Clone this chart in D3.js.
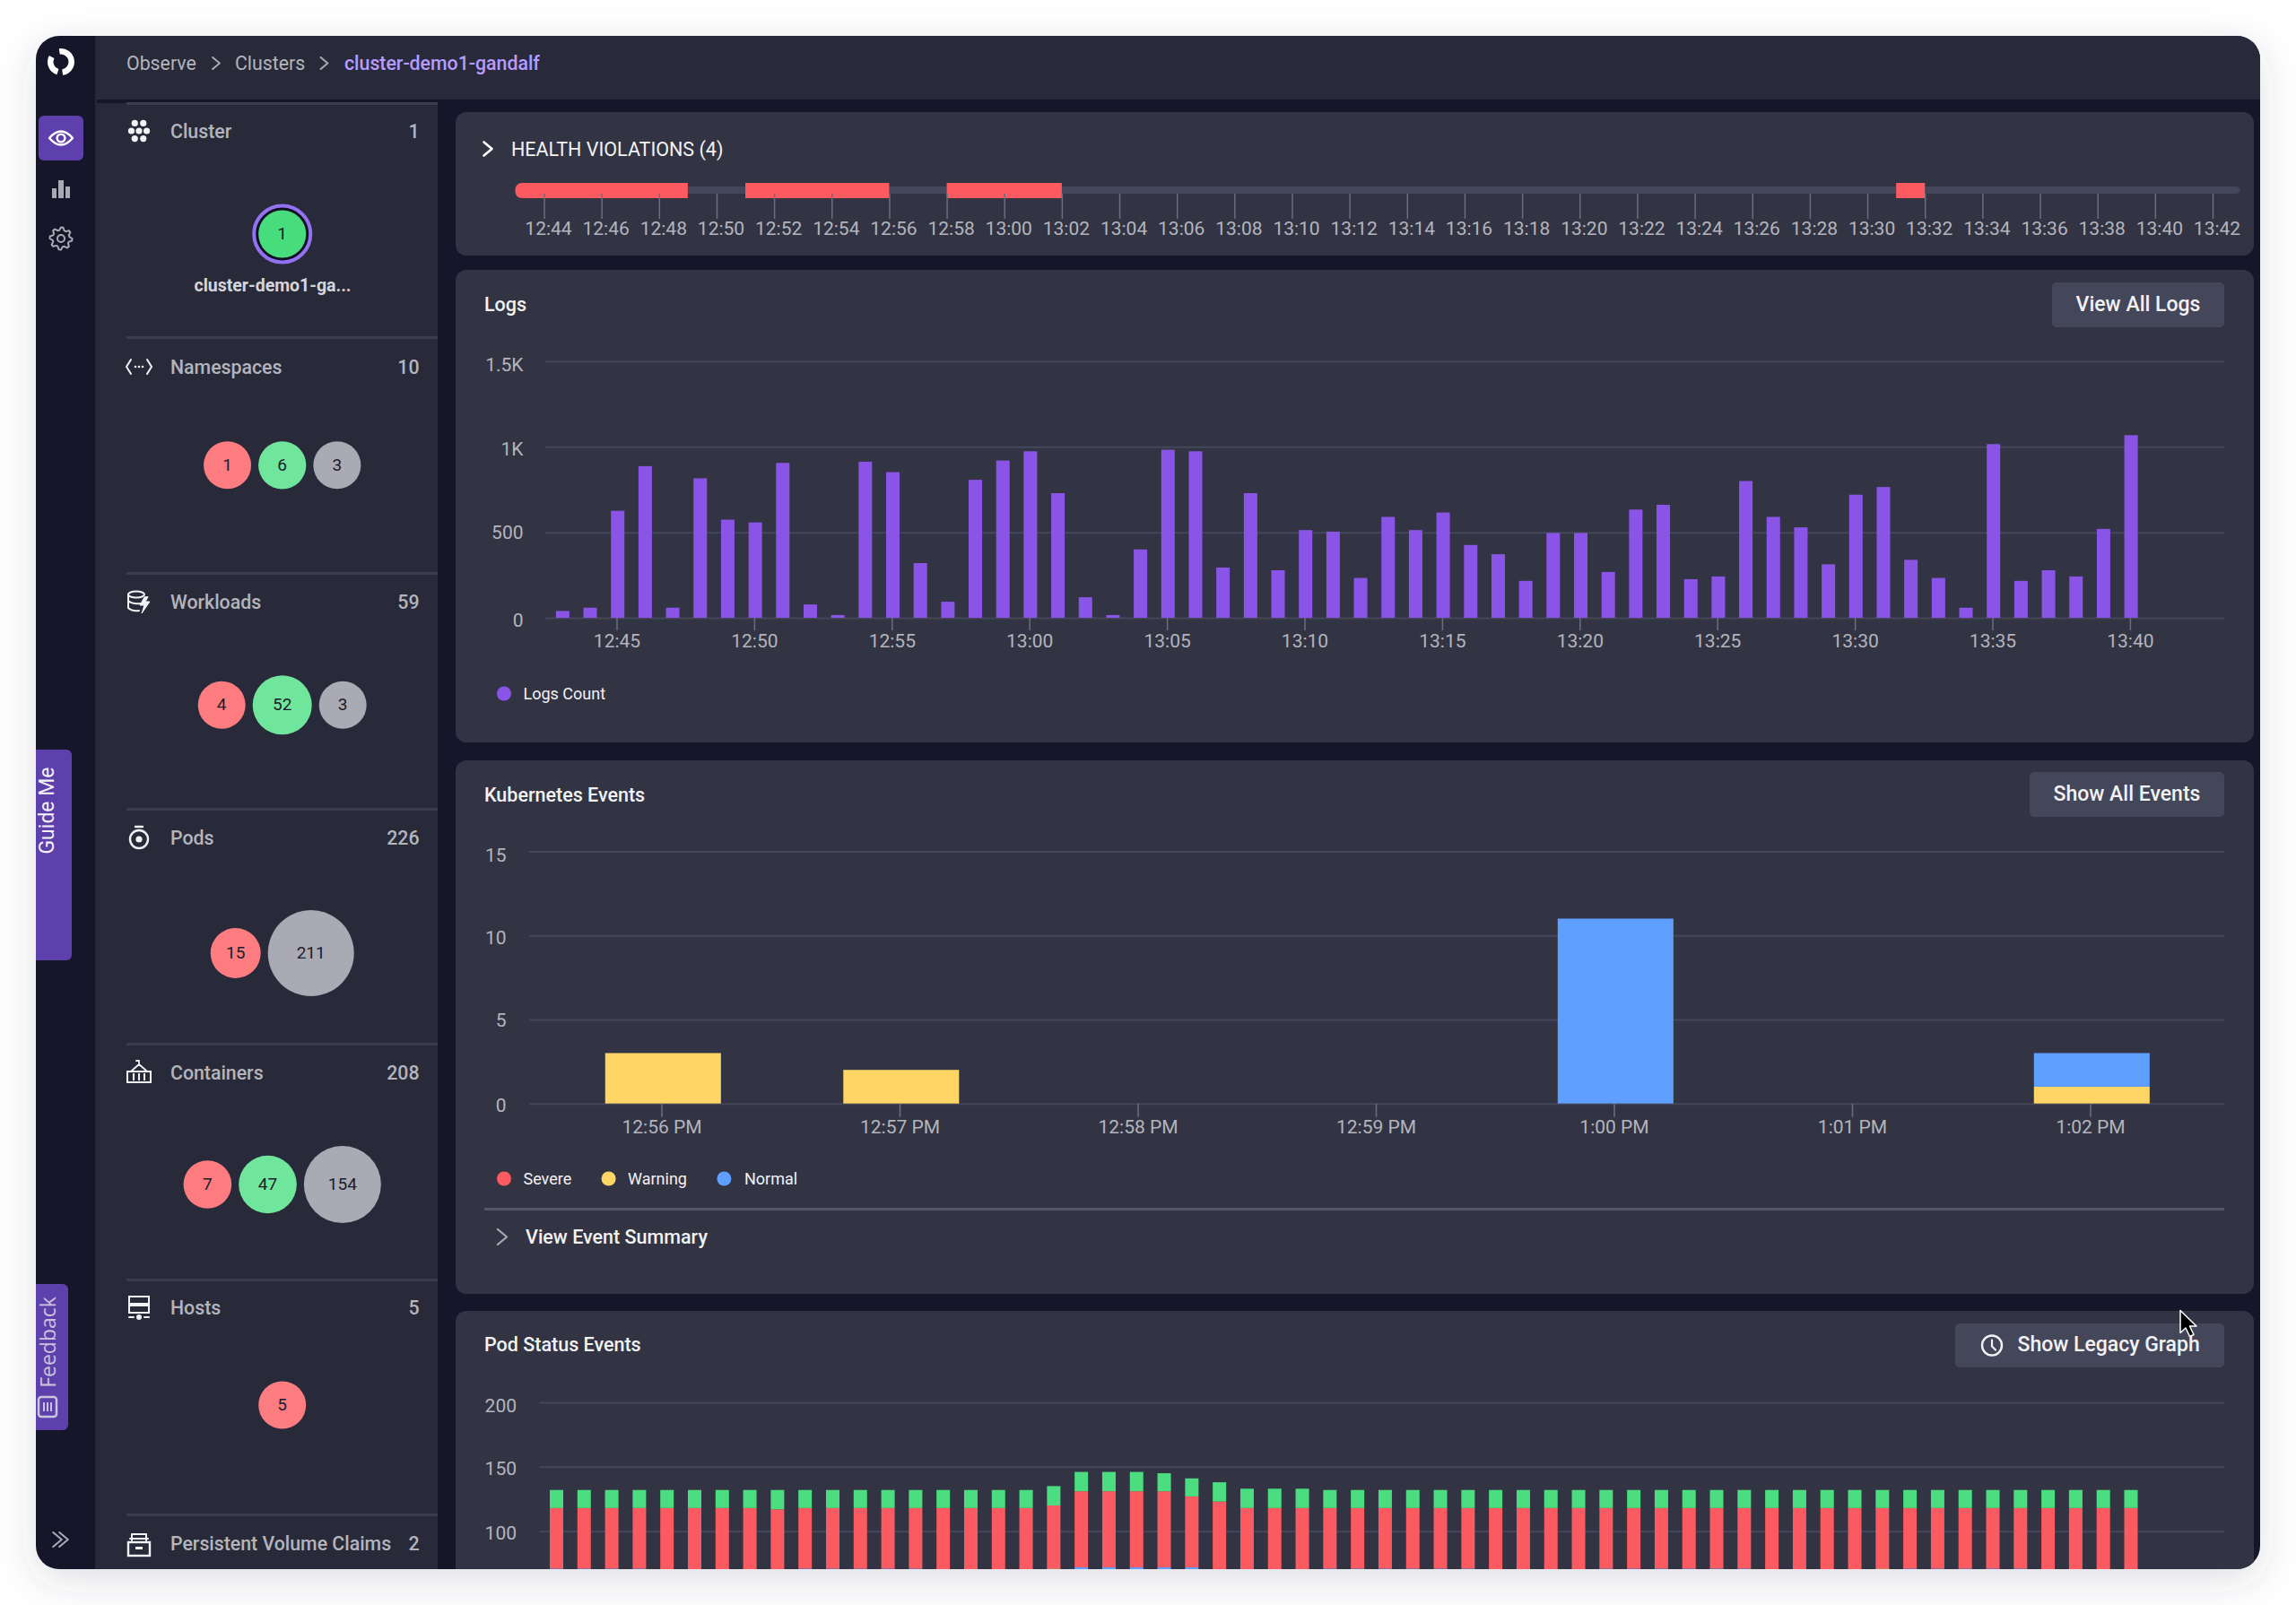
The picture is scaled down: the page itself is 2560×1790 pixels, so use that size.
<!DOCTYPE html>
<html><head><meta charset="utf-8">
<script src="https://cdn.jsdelivr.net/npm/d3@7/dist/d3.min.js"></script>
<style>
html,body{margin:0;padding:0;background:#fff;width:2560px;height:1790px;overflow:hidden}
svg{display:block}
text{font-family:Roboto,sans-serif}
.axis path.domain{display:none}
</style></head><body><div id="chart"></div>
<script>
// ---------- data ----------
const breadcrumbs = ["Observe","Clusters","cluster-demo1-gandalf"];
const sections = ["Cluster","Namespaces","Workloads","Pods","Containers","Hosts","Persistent Volume Claims"];
const sectionCounts = [1,10,59,226,208,5,2];
const clusterBubble = [{v:1,c:"cluster"}];
const namespaceBubbles = [{v:1,c:"bad"},{v:6,c:"good"},{v:3,c:"idle"}];
const workloadBubbles = [{v:4,c:"bad"},{v:52,c:"good"},{v:3,c:"idle"}];
const podBubbles = [{v:15,c:"bad"},{v:211,c:"idle"}];
const containerBubbles = [{v:7,c:"bad"},{v:47,c:"good"},{v:154,c:"idle"}];
const hostBubbles = [{v:5,c:"bad"}];

const healthViolations = [["12:43","12:49"],["12:51","12:56"],["12:58","13:02"],["13:31","13:32"]];
const healthStart = "12:44", healthEnd = "13:42";

const logCounts = [40,59,626,887,59,816,574,558,906,78,16,913,852,320,94,807,920,974,729,120,16,400,983,974,294,729,278,513,504,233,590,513,616,426,372,216,496,496,268,633,661,226,242,800,590,529,313,720,765,339,233,59,1016,216,278,242,520,1068];
const logTicks = [0,500,1000,1500];

const k8sTimes = ["12:56 PM","12:57 PM","12:58 PM","12:59 PM","1:00 PM","1:01 PM","1:02 PM"];
const k8sSevere  = [0,0,0,0,0,0,0];
const k8sWarning = [3,2,0,0,0,0,1];
const k8sNormal  = [0,0,0,0,11,0,2];
const k8sTicks = [0,5,10,15];

const podNormal  = [71,71,71,71,70,70,70,70,70,71,71,71,71,71,70,70,70,70,70,72,72,72,72,72,70,70,70,70,71,71,71,71,71,71,70,70,70,70,71,71,71,71,71,71,70,70,70,70,70,71,71,71,71,71,70,70,70,70];
const podWarning = [0,0,0,0,0,0,0,0,0,0,0,0,0,0,0,0,0,0,1,0,0,0,0,0,0,0,0,0,0,0,0,0,0,0,0,0,0,0,0,0,0,0,0,0,0,0,0,0,1,0,0,0,0,0,0,0,0,0];
const podSevere  = [47,47,47,47,48,48,48,48,47,47,47,47,47,47,48,48,48,48,49,59,59,59,59,55,53,48,48,48,47,47,47,47,47,47,48,48,48,48,47,47,47,47,47,47,48,48,48,48,47,47,47,47,47,47,48,48,48,48];
const podRunning = [14,14,14,14,14,14,14,14,15,14,14,14,14,14,14,14,14,14,15,15,15,15,14,14,15,15,15,15,14,14,14,14,14,14,14,14,14,14,14,14,14,14,14,14,14,14,14,14,14,14,14,14,14,14,14,14,14,14];
const podTicks = [100,150,200];

// ---------- palette ----------
const C = {nav:"#15182b",panel:"#282a3a",card:"#323444",grid:"#44465a",tick:"#6d6e7c",txt:"#b4b5bc",white:"#f2f2f4",
  red:"#fb5a60",yellow:"#ffd666",blue:"#5e9fff",green:"#4cdd80",purple:"#8a55e6",tile:"#5d40ab",btn:"#44465a"};
const bubbleFill = {bad:"#fc7c80",good:"#6fe69c",idle:"#a9aab3",cluster:"#47dc7c"};

const W=2560,H=1790;
const svg = d3.select("#chart").append("svg").attr("width",W).attr("height",H);
const defs = svg.append("defs");
const sh = defs.append("filter").attr("id","shadow").attr("x","-5%").attr("y","-5%").attr("width","110%").attr("height","112%");
sh.append("feDropShadow").attr("dx",0).attr("dy",12).attr("stdDeviation",22).attr("flood-color","#3a3d55").attr("flood-opacity",0.16);
defs.append("clipPath").attr("id","win").append("rect").attr("x",40).attr("y",40).attr("width",2480).attr("height",1710).attr("rx",26);

svg.append("rect").attr("x",40).attr("y",40).attr("width",2480).attr("height",1710).attr("rx",26).attr("fill",C.nav).attr("filter","url(#shadow)");
const root = svg.append("g").attr("clip-path","url(#win)");
const rect=(g,x,y,w,h,f,r=0)=>g.append("rect").attr("x",x).attr("y",y).attr("width",w).attr("height",h).attr("fill",f).attr("rx",r);
const text=(g,s,x,y,o={})=>g.append("text").text(s).attr("x",x).attr("y",y).attr("font-size",o.size||21).attr("font-weight",o.w||400)
  .attr("fill",o.fill||C.txt).attr("text-anchor",o.anchor||"start").attr("dominant-baseline","central");
const line=(g,d,o={})=>g.append("path").attr("d",d).attr("fill",o.fill||"none").attr("stroke",o.stroke||C.white).attr("stroke-width",o.sw||2).attr("stroke-linecap","round").attr("stroke-linejoin","round");
const chev=(g,x,y,h,col,sw)=>line(g,`M${x-h*0.3},${y-h/2}L${x+h*0.3},${y}L${x-h*0.3},${y+h/2}`,{stroke:col,sw});

// ---------- shell ----------
rect(root,107,40,2413,71,C.panel);
rect(root,106,40,2,1710,"#262838");
rect(root,108,115,380,1635,C.panel);

// nav
const logoArc=d3.arc().innerRadius(8.5).outerRadius(15);
const logo=root.append("g").attr("transform","translate(68,69)");
logo.append("path").attr("d",logoArc({startAngle:-0.15,endAngle:3.0})).attr("fill","#fff");
logo.append("path").attr("d",logoArc({startAngle:3.45,endAngle:5.2})).attr("fill","#fff");
rect(root,43,129,50,50,C.tile,6);
const eye=root.append("g").attr("transform","translate(68,154)");
line(eye,"M-13,0Q0,-15 13,0Q0,15 -13,0Z",{stroke:"#fff",sw:2.4});
eye.append("circle").attr("r",4.4).attr("fill","none").attr("stroke","#fff").attr("stroke-width",2.4);
const navBars=root.append("g").attr("transform","translate(68,212)");
[[-10,-2,5,11],[-3,-11,6,20],[5,-4,5,13]].forEach(b=>rect(navBars,b[0],b[1],b[2],b[3],"#a9aab3"));
const gear=root.append("g").attr("transform","translate(68,266)");
gear.append("circle").attr("r",4).attr("fill","none").attr("stroke","#a9aab3").attr("stroke-width",2);
gear.append("path").attr("d",d3.lineRadial().curve(d3.curveLinearClosed)(d3.range(32).map(i=>[i*Math.PI/16,[12.5,12.5,9.5,9.5][i%4]]))).attr("fill","none").attr("stroke","#a9aab3").attr("stroke-width",2).attr("stroke-linejoin","round");
chev(root,64,1717,16,"#a9aab3",2);chev(root,71,1717,16,"#a9aab3",2);

// side tabs
rect(root,20,836,60,235,C.tile,6);
root.append("text").text("Guide Me").attr("transform","translate(52,904) rotate(-90)").attr("text-anchor","middle").attr("dominant-baseline","central").attr("font-size",23).attr("font-weight",400).attr("fill","#f2f2f4");
rect(root,20,1432,56,163,C.tile,6);
root.append("text").text("Feedback").attr("transform","translate(53,1497) rotate(-90)").attr("text-anchor","middle").attr("dominant-baseline","central").attr("font-size",23).attr("font-weight",500).attr("style","font-family:'Open Sans',sans-serif").attr("fill","#c9c3dc");
const fb=root.append("g").attr("transform","translate(53,1569)");
rect(fb,-10,-11,20,22,"none",3).attr("stroke","#c9c3dc").attr("stroke-width",2.5);
[-4,0,4].forEach(dx=>rect(fb,dx-1,-5,2,10,"#c9c3dc"));

// breadcrumbs
text(root,breadcrumbs[0],141,70.5,{size:21.3,fill:"#b4b5bc"});
chev(root,241,70.5,13,"#a9aab3",2);
text(root,breadcrumbs[1],262,70.5,{size:21.3,fill:"#b4b5bc"});
chev(root,361.5,70.5,13,"#a9aab3",2);
text(root,breadcrumbs[2],384,70.5,{size:21.3,w:500,fill:"#b79cff"});

// ---------- left panel ----------
const secY=[146,409,671,934,1196,1458,1721];
const divY=[115,376,639,902,1164,1427,1689];
const rowY=[261,518.8,786.3,1063,1321,1567];
const rows=[clusterBubble,namespaceBubbles,workloadBubbles,podBubbles,containerBubbles,hostBubbles];
const rScale=d3.scaleLinear().domain([1,5,15,52,154,211]).range([26.5,26.5,28,33,43,48]);
const panel=root.append("g");
divY.forEach(y=>rect(panel,141,y-1,347,3,"#3b3d4f"));
sections.forEach((s,i)=>{
  text(panel,s,190,secY[i],{size:21.3,w:500,fill:C.txt});
  text(panel,sectionCounts[i],467.5,secY[i],{size:21.3,w:500,fill:C.txt,anchor:"end"});
});
rows.forEach((r,i)=>{
  const gap=8,total=d3.sum(r,d=>2*rScale(d.v))+gap*(r.length-1);
  let cx=314.7-total/2;
  const g=panel.append("g");
  r.forEach(d=>{
    const rad=rScale(d.v);cx+=rad;
    g.append("circle").attr("cx",cx).attr("cy",rowY[i]).attr("r",rad).attr("fill",bubbleFill[d.c]);
    if(d.c==="cluster"){
      g.append("circle").attr("cx",cx).attr("cy",rowY[i]).attr("r",rad+2).attr("fill","none").attr("stroke","#0e1020").attr("stroke-width",3);
      g.append("circle").attr("cx",cx).attr("cy",rowY[i]).attr("r",rad+5).attr("fill","none").attr("stroke","#9272f0").attr("stroke-width",4);
    }
    text(g,d.v,cx,rowY[i]-0.5,{size:19,fill:"#1b1c2c",anchor:"middle"});
    cx+=rad+gap;
  });
});
text(panel,"cluster-demo1-ga...",304,318,{size:19.5,w:700,fill:"#d5d5da",anchor:"middle"});

// section icons
const ic=(y)=>panel.append("g").attr("transform",`translate(155,${y})`);
const i0=ic(146).attr("fill","#f2f2f4");
[[-5,-9],[5,-9],[-9,0],[0,0],[9,0],[-5,9],[5,9]].forEach(p=>i0.append("circle").attr("cx",p[0]*0.95).attr("cy",p[1]*0.95).attr("r",3.6));
const i1=ic(409);
line(i1,"M-9,-8L-14,0L-9,8",{sw:2});line(i1,"M9,-8L14,0L9,8",{sw:2});
[-4,0,4].forEach(x=>i1.append("circle").attr("cx",x).attr("r",1.3).attr("fill","#f2f2f4"));
const i2=ic(671);
i2.append("ellipse").attr("cx",-3).attr("cy",-8).attr("rx",9).attr("ry",3.5).attr("fill","none").attr("stroke","#f2f2f4").attr("stroke-width",2);
line(i2,"M-12,-8V7Q-8,11 0,10M-12,-1Q-8,3 2,2",{sw:2});
line(i2,"M6,-5L1,4H6L3,13L12,0H7L10,-5Z",{sw:1,fill:"#f2f2f4"});
const i3=ic(934);
i3.append("circle").attr("cy",2).attr("r",10).attr("fill","none").attr("stroke","#f2f2f4").attr("stroke-width",2.4);
i3.append("circle").attr("cy",2).attr("r",3.6).attr("fill","#f2f2f4");
line(i3,"M-4,-12H4",{sw:2.4});
const i4=ic(1196);
rect(i4,-13,-1,26,12,"none",0).attr("stroke","#f2f2f4").attr("stroke-width",2);
[-6,0,6].forEach(x=>rect(i4,x-1,1,2,8,"#f2f2f4"));
line(i4,"M-8,-2L0,-9L8,-2M0,-9V-13H-3",{sw:1.8});
const i5=ic(1459);
rect(i5,-11,-13,22,8,"none",0).attr("stroke","#f2f2f4").attr("stroke-width",2);
rect(i5,-11,-3,22,8,"none",0).attr("stroke","#f2f2f4").attr("stroke-width",2);
i5.append("circle").attr("cy",10).attr("r",3).attr("fill","#f2f2f4");
line(i5,"M-11,10H-6M6,10H11",{sw:2});
const i6=ic(1722);
rect(i6,-12,-2,24,15,"none",0).attr("stroke","#f2f2f4").attr("stroke-width",2.4);
rect(i6,-4,3,8,3,"#f2f2f4");
line(i6,"M-8,-4V-11H8V-4M-10,-6H10",{sw:2});

// ---------- cards ----------
const cards=[[125,160],[301,527],[848,595],[1462,300]];
cards.forEach(c=>rect(root,508,c[0],2005,c[1],C.card,12));
const parse=d3.timeParse("%H:%M"),hm=d3.timeFormat("%H:%M");

// health
chev(root,544,166,15,"#fff",2.6);
text(root,"HEALTH VIOLATIONS (4)",570,166,{size:21.5,fill:C.white});
const hx=d3.scaleTime().domain([parse(healthStart),parse(healthEnd)]).range([606.5,2467]);
rect(root,hx(d3.timeMinute.offset(parse(healthStart),-1)),208,hx(d3.timeMinute.offset(parse(healthEnd),1))-hx(d3.timeMinute.offset(parse(healthStart),-1))-2,8,"#44465a",4);
const hViol=root.append("g");
hViol.selectAll("path").data(healthViolations).join("path").attr("fill",C.red).attr("d",(d,i)=>{
  const a=hx(parse(d[0])),b=hx(parse(d[1]));
  return i===0?`M${a+8},204H${b}V221H${a+8}Q${a},221 ${a},212.5Q${a},204 ${a+8},204Z`:`M${a},204H${b}V221H${a}Z`;});
const axH=root.append("g").attr("class","axis").attr("transform","translate(0,216)")
  .call(d3.axisBottom(hx).ticks(d3.timeMinute.every(2)).tickFormat(hm).tickSize(28).tickPadding(3.5));
axH.selectAll("line").attr("stroke",C.tick).attr("stroke-width",1.5);
axH.selectAll("text").attr("font-size",21).attr("fill",C.txt).attr("dx",4.5).attr("style","font-family:Roboto");

// helpers
function button(label,x,y,w,h){rect(root,x,y,w,h,C.btn,5);
  return text(root,label,x+w/2,y+h/2-1,{size:23,w:500,fill:C.white,anchor:"middle"});}
function grid(y,x0,x1,ticks,fmt,pad,nudge){
  const g=root.append("g").attr("class","axis").attr("transform",`translate(${x0},0)`)
   .call(d3.axisLeft(y).tickValues(ticks).tickSize(-(x1-x0)).tickPadding(pad).tickFormat(fmt));
  g.selectAll("line").attr("stroke",C.grid).attr("stroke-width",2);
  g.selectAll("text").attr("font-size",21).attr("fill",C.txt).attr("y",(d,i)=>nudge[i]+0.8).attr("style","font-family:Roboto");
  return g;}
function legend(items){items.forEach(d=>{
  root.append("circle").attr("cx",d.cx).attr("cy",d.y).attr("r",8).attr("fill",d.c);
  text(root,d.t,d.tx,d.y-0.5,{size:18,fill:C.white});});}

// logs
text(root,"Logs",540,339,{size:21.5,w:500,fill:C.white});
button("View All Logs",2288,315,192,50);
const ly=d3.scaleLinear().domain([0,1500]).range([689,403]);
grid(ly,608,2480,logTicks,d=>d===0?"0":d<1000?d:(d/1000)+"K",24.5,[1.7,-0.7,1.6,2.7]);
const t0=parse("12:43");
const lx=d3.scaleTime().domain([t0,d3.timeMinute.offset(t0,60)]).range([626.14,2466.94]);
const logData=logCounts.map((v,i)=>({t:d3.timeMinute.offset(t0,i),v}));
root.append("g").attr("transform","translate(1.2,0)").selectAll("rect").data(logData).join("rect")
  .attr("x",d=>lx(d.t)-7.5).attr("width",15).attr("y",d=>ly(d.v)).attr("height",d=>ly(0)-ly(d.v)).attr("fill",C.purple);
const axL=root.append("g").attr("class","axis").attr("transform","translate(0,689)")
  .call(d3.axisBottom(lx).ticks(d3.timeMinute.every(5)).tickFormat(hm).tickSize(14).tickPadding(4));
axL.selectAll("line").attr("stroke",C.tick).attr("stroke-width",1.5);
axL.selectAll("text").attr("font-size",21).attr("fill",C.txt).attr("style","font-family:Roboto");
axL.selectAll(".tick").filter(d=>d>d3.timeMinute.offset(t0,58)||d<t0).remove();
legend([{t:"Logs Count",c:C.purple,cx:562,tx:583.5,y:773.5}]);

// kubernetes
text(root,"Kubernetes Events",540,886,{size:21.5,w:500,fill:C.white});
button("Show All Events",2263,861,217,50);
const ky=d3.scaleLinear().domain([0,15]).range([1230.7,949.5]);
grid(ky,590,2480,k8sTicks,d=>d,25.5,[1.6,0.3,2,3.6]);
const kx=d3.scaleBand().domain(k8sTimes).range([738-132.75,2331+132.75]).paddingInner(0.514).paddingOuter(0.257);
const kStack=d3.stack().keys(["warning","normal","severe"])(k8sTimes.map((t,i)=>({t,severe:k8sSevere[i],warning:k8sWarning[i],normal:k8sNormal[i]})));
const kColor={severe:C.red,warning:C.yellow,normal:C.blue};
root.append("g").attr("transform","translate(1.3,0)").selectAll("g").data(kStack).join("g").attr("fill",d=>kColor[d.key])
 .selectAll("rect").data(d=>d.filter(p=>p[1]>p[0])).join("rect")
 .attr("x",d=>kx(d.data.t)).attr("width",kx.bandwidth()).attr("y",d=>ky(d[1])).attr("height",d=>ky(d[0])-ky(d[1]));
const axK=root.append("g").attr("class","axis").attr("transform","translate(0,1230.7)")
 .call(d3.axisBottom(kx).tickSize(15).tickPadding(3));
axK.selectAll("line").attr("stroke",C.tick).attr("stroke-width",1.5);
axK.selectAll("text").attr("font-size",21).attr("fill",C.txt).attr("style","font-family:Roboto");
legend([{t:"Severe",c:C.red,cx:562,tx:583.5,y:1314.5},{t:"Warning",c:C.yellow,cx:678.6,tx:700,y:1314.5},{t:"Normal",c:C.blue,cx:807.4,tx:830,y:1314.5}]);
rect(root,540,1347,1940,3,"#54566a");
chev(root,560,1379.5,17,"#a9aab3",2.2);
text(root,"View Event Summary",586,1379,{size:21.5,w:500,fill:C.white});

// pod status
text(root,"Pod Status Events",540,1499.7,{size:21.5,w:500,fill:C.white});
rect(root,2180,1476,300,49,C.btn,5);
const cl=root.append("g").attr("transform","translate(2221,1500.5)");
cl.append("circle").attr("r",11).attr("fill","none").attr("stroke",C.white).attr("stroke-width",2.4);
line(cl,"M0,-6V1L4,5",{sw:2.2});
text(root,"Show Legacy Graph",2249.5,1499.5,{size:23,w:500,fill:C.white});
const py=d3.scaleLinear().domain([0,200]).range([1851.4,1564]);
grid(py,601,2480,podTicks,d=>d,25,[1.3,1.6,3.3]);
const pData=podNormal.map((v,i)=>({i,normal:v,warning:podWarning[i],severe:podSevere[i],running:podRunning[i]}));
const px=d3.scaleBand().domain(d3.range(pData.length)).range([620.5-15.4,2376+15.4]).paddingInner(0.513).paddingOuter(0.2565);
const pStack=d3.stack().keys(["normal","warning","severe","running"])(pData);
const pColor={normal:C.blue,warning:C.yellow,severe:C.red,running:C.green};
root.append("g").selectAll("g").data(pStack).join("g").attr("fill",d=>pColor[d.key])
 .selectAll("rect").data(d=>d.filter(p=>p[1]>p[0])).join("rect")
 .attr("x",d=>px(d.data.i)).attr("width",px.bandwidth()).attr("y",d=>py(d[1])).attr("height",d=>py(d[0])-py(d[1]));

// pointer
svg.append("path").attr("transform","translate(2431,1461.5)").attr("d","M0,0V25L6,19.5L10.5,29L15,27L10.5,17.5H18Z")
  .attr("fill","#000").attr("stroke","#fff").attr("stroke-width",1.5).attr("stroke-linejoin","round");
</script></body></html>
